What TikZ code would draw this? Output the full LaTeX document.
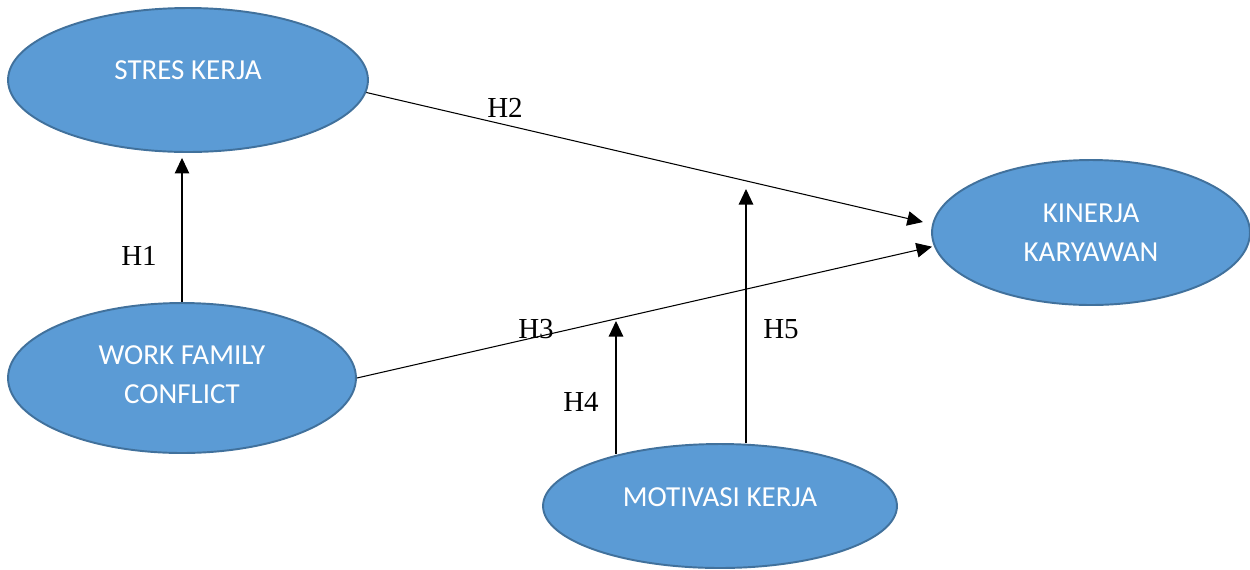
\documentclass[tikz,border=0pt]{standalone}
\usepackage{fontspec}
\setmainfont{Liberation Serif}
\newfontfamily\carl{Carlito}
\usetikzlibrary{arrows.meta,shapes.geometric}
\definecolor{efill}{HTML}{5B9BD5}
\definecolor{eline}{HTML}{41719C}
\tikzset{
  ell/.style={ellipse, draw=eline, line width=1.1pt, fill=efill, inner sep=0pt},
  etext/.style={text=white, font=\carl\fontsize{16.5pt}{22pt}\selectfont, align=center, inner sep=0pt},
  hlab/.style={font=\fontsize{16.5pt}{20pt}\selectfont, inner sep=0pt},
  arr/.style={line width=0.6pt, -{Triangle[length=0.31cm, width=0.29cm]}}
}
\begin{document}
\begin{tikzpicture}[x=0.02cm, y=-0.02cm]
\useasboundingbox (0,0) rectangle (1250,569);
\node[ell, minimum width=7.2cm, minimum height=2.88cm,
  label={[etext, yshift=0.2cm]center:STRES KERJA}] (stres) at (188,80) {};
\node[ell, minimum width=6.96cm, minimum height=3.0cm,
  label={[etext, yshift=0.06cm]center:WORK FAMILY\\CONFLICT}] (wfc) at (182,378) {};
\node[ell, minimum width=6.36cm, minimum height=2.9cm,
  label={[etext]center:KINERJA\\KARYAWAN}] (kin) at (1091,232.5) {};
\node[ell, minimum width=7.08cm, minimum height=2.48cm,
  label={[etext, yshift=0.18cm]center:MOTIVASI KERJA}] (mot) at (720,506) {};

\coordinate (h4) at (616,321);
\coordinate (h5) at (746,189);

\draw[arr, shorten >=0.1cm] (wfc.north) -- (stres.south -| wfc.north);
\draw[arr, shorten >=0.19cm] (stres.-4.5) -- (kin.177.6);
\draw[arr, shorten >=0.04cm] (wfc.east) -- (kin.185.3);
\draw[arr] (h4 |- mot.153.4) -- (h4);
\draw[arr] (h5 |- mot.north) -- (h5);

\node[hlab] (l1) at (139,256) {H1};
\node[hlab] (l2) at (505,108) {H2};
\node[hlab] (l3) at (536,329) {H3};
\node[hlab] (l4) at (581,402) {H4};
\node[hlab] (l5) at (781,329) {H5};
\end{tikzpicture}
\end{document}
